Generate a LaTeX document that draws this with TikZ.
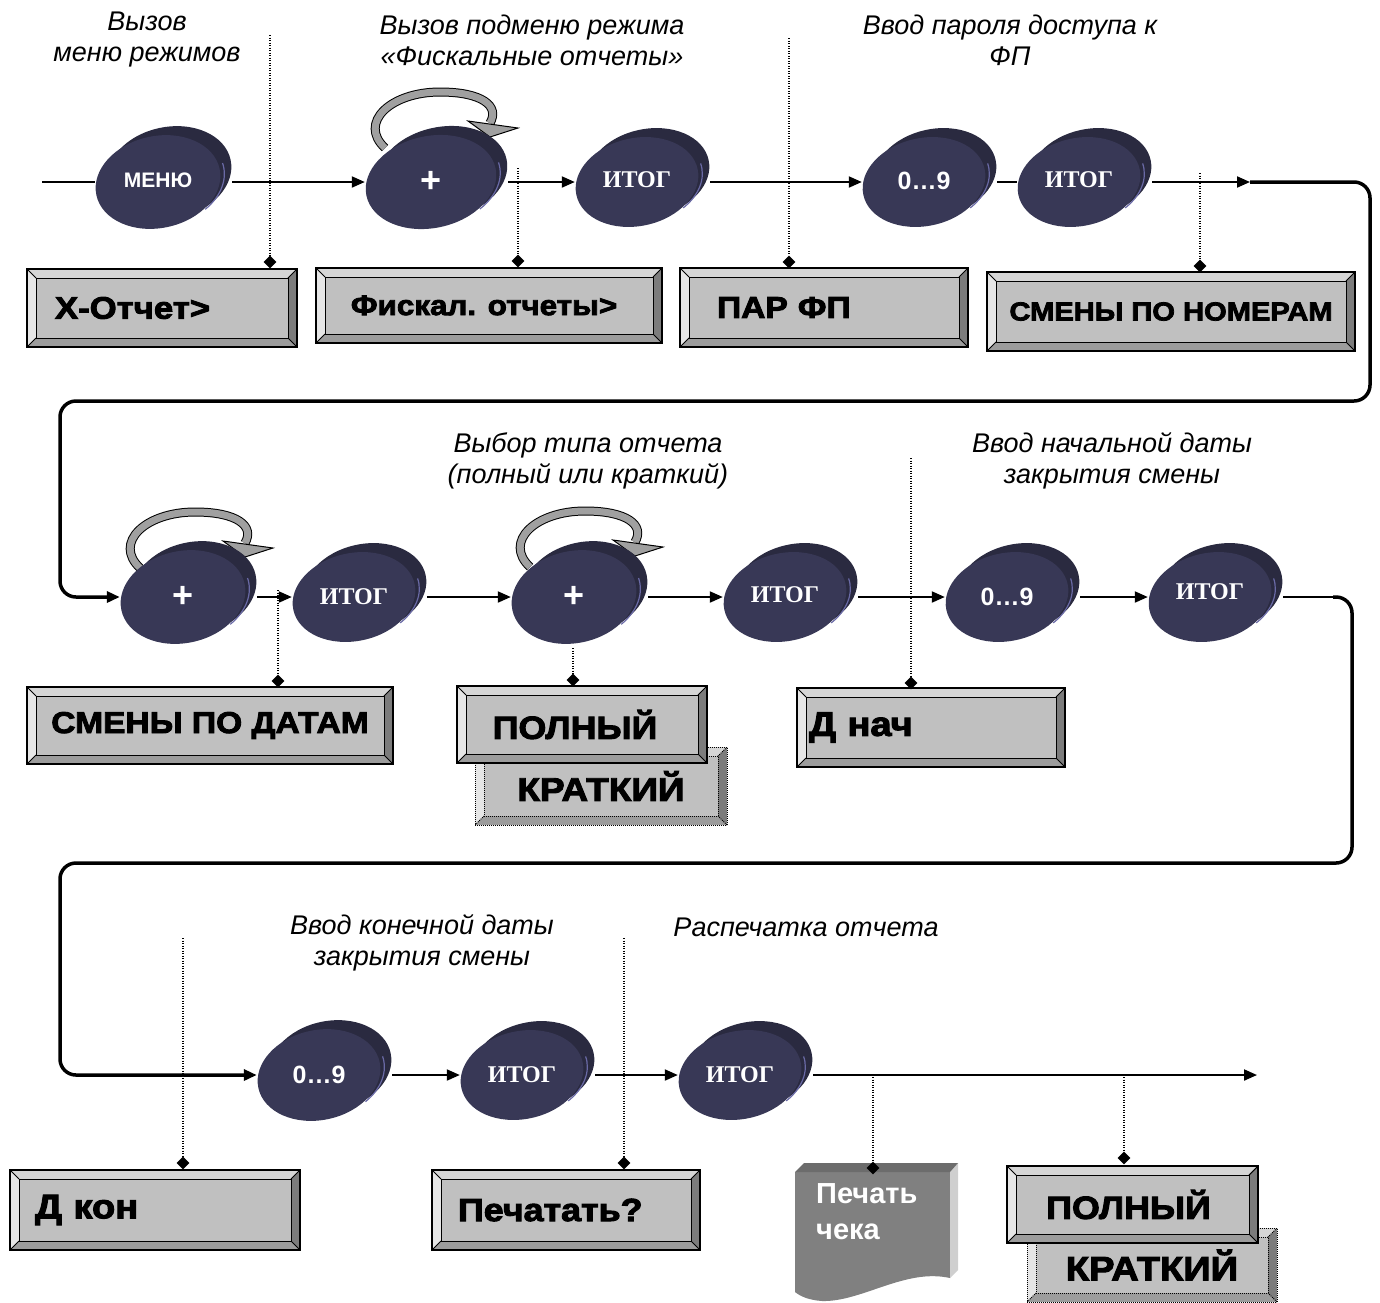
\documentclass[tikz,border=0pt]{standalone}
\usepackage{fontspec}
\setmainfont{Liberation Sans}
\newfontfamily\hv{Liberation Sans Bold}[FakeBold=3, FakeStretch=1.12]
\newfontfamily\tms{Liberation Serif}
\usetikzlibrary{arrows.meta,shapes.geometric,calc}
\definecolor{coinF}{HTML}{383856}
\definecolor{coinB}{HTML}{2A2A40}
\definecolor{coinH}{HTML}{6A6AA6}
\definecolor{boxG}{HTML}{C0C0C0}
\definecolor{bevT}{HTML}{D6D6D6}
\definecolor{bevL}{HTML}{E6E6E6}
\definecolor{bevB}{HTML}{9C9C9C}
\definecolor{bevR}{HTML}{7C7C7C}
\definecolor{docG}{HTML}{808080}
\definecolor{docS}{HTML}{CFCFCF}
\definecolor{docT}{HTML}{6C6C6C}
\definecolor{rotG}{HTML}{A0A0A0}
\def\ppb{path picture bounding box}
\newcommand\bevelpp[2]{%
 \fill[bevT] (\ppb.north west) -- (\ppb.north east) -- ([shift={(-#1,-#1)}]\ppb.north east) -- ([shift={(#1,-#1)}]\ppb.north west) -- cycle;
 \fill[bevL] (\ppb.north west) -- (\ppb.south west) -- ([shift={(#1,#1)}]\ppb.south west) -- ([shift={(#1,-#1)}]\ppb.north west) -- cycle;
 \fill[bevB] (\ppb.south west) -- (\ppb.south east) -- ([shift={(-#1,#1)}]\ppb.south east) -- ([shift={(#1,#1)}]\ppb.south west) -- cycle;
 \fill[bevR] (\ppb.north east) -- (\ppb.south east) -- ([shift={(-#1,#1)}]\ppb.south east) -- ([shift={(-#1,-#1)}]\ppb.north east) -- cycle;
 \draw[#2] ([shift={(#1,-#1)}]\ppb.north west) rectangle ([shift={(-#1,#1)}]\ppb.south east);
 \draw[#2] (\ppb.north west) -- ([shift={(#1,-#1)}]\ppb.north west);
 \draw[#2] (\ppb.north east) -- ([shift={(-#1,-#1)}]\ppb.north east);
 \draw[#2] (\ppb.south west) -- ([shift={(#1,#1)}]\ppb.south west);
 \draw[#2] (\ppb.south east) -- ([shift={(-#1,#1)}]\ppb.south east);
}
\newcommand\coin[6]{%
  \fill[coinB, rotate around={12:(#2+11,#3-9)}] (#2+11,#3-9) ellipse ({#4} and {#5});
  \draw[coinH, line width=1.2pt, rotate around={12:(#2+4,#3-2)}] (#2+4,#3-2) ++({#4*cos(-5)},{#5*sin(-5)}) arc[start angle=-5, end angle=55, x radius=#4, y radius=#5];
  \fill[coinF, rotate around={12:(#2,#3)}] (#2,#3) ellipse ({#4} and {#5});
  \node[coinlbl, minimum width=2*#4, minimum height=2*#5] (#1) at (#2,#3) {#6};
}
\newcommand\rotarrow[2]{%
  \draw[line width=1pt, draw=black, double=rotG, double distance=7pt]
    (#1-55,#2+20) .. controls (#1-82,#2-5) and (#1-50,#2-36) .. (#1,#2-36)
    .. controls (#1+42,#2-36) and (#1+60,#2-22) .. (#1+50,#2-5);
  \filldraw[fill=rotG, draw=black, line width=1pt] (#1+28,#2-7) -- (#1+78,#2) -- (#1+50,#2+9) -- cycle;
}
\newcommand\lblS[1]{\bfseries\fontsize{25}{25}\selectfont #1}
\newcommand\lblI[1]{\tms\bfseries\fontsize{24}{24}\selectfont ИТОГ}
\newcommand\lblP{\raisebox{-6pt}{\bfseries\fontsize{36}{36}\selectfont +}}
\begin{document}
\begin{tikzpicture}[x=1pt,y=-1pt,
  conn/.style={line width=2pt, -{Triangle[length=13pt,width=11pt]}},
  plain/.style={line width=2pt},
  bracket/.style={line width=3.5pt, rounded corners=16pt},
  dotl/.style={line width=1.2pt, dash pattern=on 1.2pt off 1.3pt},
  dia/.style={diamond, fill=black, inner sep=0pt, minimum width=13pt, minimum height=13pt},
  capt/.style={font=\fontsize{27}{31}\selectfont\itshape, align=center, inner sep=0pt},
  coinlbl/.style={ellipse, inner sep=0pt, text=white},
  bevel/.style={rectangle, draw=black, line width=1.3pt, fill=boxG, inner sep=0pt, text=black,
    path picture={\bevelpp{9pt}{black, line width=1pt}}},
  dbevel/.style={rectangle, draw=black, line width=1pt, dash pattern=on 1pt off 1pt, fill=boxG, inner sep=0pt, text=black,
    path picture={\bevelpp{9pt}{black, line width=0.9pt, dash pattern=on 1pt off 1pt}}},
  bt/.style={font=\hv\fontsize{#1}{#1}\selectfont}
]
\useasboundingbox (0,0) rectangle (1380,1302);

% rotation arrows
\rotarrow{440}{128}
\rotarrow{195}{548}
\rotarrow{585}{547}

% coins row 1
\coin{c1}{158}{182}{63}{46}{\raisebox{4pt}{\bfseries\fontsize{21}{21}\selectfont МЕНЮ}}
\coin{c2}{431}{182}{66}{46}{\lblP}
\coin{c3}{637}{182}{62}{44}{\raisebox{4pt}{\lblI{}}}
\coin{c4}{924}{182}{62}{44}{\raisebox{2pt}{\lblS{0…9}}}
\coin{c5}{1079}{182}{62}{44}{\raisebox{5pt}{\lblI{}}}
% coins row 2
\coin{c6}{183}{597}{63}{46}{\lblP}
\coin{c7}{354}{597}{62}{44}{\lblI{}}
\coin{c8}{574}{597}{63}{46}{\lblP}
\coin{c9}{785}{597}{62}{44}{\raisebox{5pt}{\lblI{}}}
\coin{c10}{1007}{597}{62}{44}{\lblS{0…9}}
\coin{c11}{1210}{597}{62}{44}{\raisebox{10pt}{\lblI{}}}
% coins row 3
\coin{c12}{319}{1075}{62}{45}{\lblS{0…9}}
\coin{c13}{522}{1075}{62}{44}{\lblI{}}
\coin{c14}{740}{1075}{62}{44}{\lblI{}}

% connectors row 1
\coordinate (s0) at (42,182);
\draw[plain] (s0) -- (c1.west);
\draw[conn] ([xshift=11pt]c1.east) -- (c2.west);
\draw[conn] ([xshift=11pt]c2.east) -- (c3.west);
\draw[conn] ([xshift=11pt]c3.east) -- (c4.west);
\draw[plain] ([xshift=11pt]c4.east) -- (c5.west);
\coordinate (a1) at (1250,182);
\draw[conn] ([xshift=11pt]c5.east) -- (a1);
\draw[bracket, -{Triangle[length=13pt,width=11pt]}] (a1) -- (1370,182) -- (1370,401) -- (60,401) -- (60,597) -- (c6.west);
% connectors row 2
\draw[conn] ([xshift=11pt]c6.east) -- (c7.west);
\draw[conn] ([xshift=11pt]c7.east) -- (c8.west);
\draw[conn] ([xshift=11pt]c8.east) -- (c9.west);
\draw[conn] ([xshift=11pt]c9.east) -- (c10.west);
\draw[conn] ([xshift=11pt]c10.east) -- (c11.west);
\coordinate (b1) at (1333,597);
\draw[plain] ([xshift=11pt]c11.east) -- (b1);
\draw[bracket, -{Triangle[length=13pt,width=11pt]}] (b1) -- (1352,597) -- (1352,863) -- (60,863) -- (60,1075) -- (c12.west);
% connectors row 3
\draw[conn] ([xshift=11pt]c12.east) -- (c13.west);
\draw[conn] ([xshift=11pt]c13.east) -- (c14.west);
\coordinate (e1) at (1257,1075);
\draw[conn] ([xshift=11pt]c14.east) -- (e1);

% boxes row 1
\node[bevel, bt=31, minimum width=270, minimum height=78, text width=214pt, align=left, inner xsep=28pt] (xr) at (162,308) {\raisebox{-3pt}{X-Отчет>}};
\node[bevel, bt=28, minimum width=346, minimum height=75] (fis) at (489,305.5) {\hspace*{-10pt}Фискал. отчеты>};
\node[bevel, bt=30, minimum width=288, minimum height=79, text width=214pt, align=left, inner xsep=37pt] (par) at (824,307.5) {\raisebox{-3pt}{ПАР ФП}};
\node[bevel, bt=26, minimum width=368, minimum height=79] (snom) at (1171,311.5) {СМЕНЫ ПО НОМЕРАМ};
% boxes row 2
\node[bevel, bt=30, minimum width=366, minimum height=77] (sdat) at (210,725.5) {СМЕНЫ ПО ДАТАМ};
\node[dbevel, bt=33, minimum width=252, minimum height=78] (kr1) at (601,786) {\raisebox{-2pt}{КРАТКИЙ}};
\node[bevel, bt=32, minimum width=250, minimum height=77] (pl1) at (582,724.5) {\hspace*{-14pt}ПОЛНЫЙ};
\node[bevel, bt=34, minimum width=268, minimum height=79, text width=244pt, align=left, inner xsep=12pt] (dn) at (931,727.5) {\raisebox{-4pt}{Д нач}};
% boxes row 3
\node[bevel, bt=34, minimum width=290, minimum height=80, text width=240pt, align=left, inner xsep=25pt] (dk) at (155,1210) {Д кон};
\node[bevel, bt=32, minimum width=268, minimum height=80, text width=216pt, align=left, inner xsep=26pt] (pch) at (566,1210) {Печатать?};
\node[dbevel, bt=34, minimum width=250, minimum height=74] (kr2) at (1152,1265) {\raisebox{-2pt}{КРАТКИЙ}};
\node[bevel, bt=32, minimum width=251, minimum height=77] (pl2) at (1132.5,1204.5) {\hspace*{-8pt}ПОЛНЫЙ};
% receipt document
\fill[docG] (795,1172) -- (950,1172) -- (950,1278) .. controls (905,1268) and (862,1302) .. (822,1301) .. controls (808,1300) and (800,1296) .. (795,1292) -- cycle;
\fill[docS] (950,1172) -- (958,1163) -- (958,1270) -- (950,1278) -- cycle;
\fill[docT] (795,1172) -- (804,1163) -- (958,1163) -- (950,1172) -- cycle;
\node[anchor=north west, inner sep=0pt, align=left, text=white, font=\bfseries\fontsize{29}{36}\selectfont] (chek) at (816,1183) {Печать\\чека};

% dotted leaders with diamonds
\coordinate (v1) at (270,35);   \node[dia] (d1) at (270,262) {};  \draw[dotl] (v1) -- (d1);
\coordinate (v2) at (518,168);  \node[dia] (d2) at (518,261) {};  \draw[dotl] (v2) -- (d2);
\coordinate (v3) at (789,38);   \node[dia] (d3) at (789,262) {};  \draw[dotl] (v3) -- (d3);
\coordinate (v4) at (1200,173); \node[dia] (d4) at (1200,266) {}; \draw[dotl] (v4) -- (d4);
\coordinate (v5) at (278,590);  \node[dia] (d5) at (278,681) {};  \draw[dotl] (v5) -- (d5);
\coordinate (v6) at (573,648);  \node[dia] (d6) at (573,680) {};  \draw[dotl] (v6) -- (d6);
\coordinate (v7) at (911,458);  \node[dia] (d7) at (911,683) {};  \draw[dotl] (v7) -- (d7);
\coordinate (v8) at (183,938);  \node[dia] (d8) at (183,1163) {}; \draw[dotl] (v8) -- (d8);
\coordinate (v9) at (624,938);  \node[dia] (d9) at (624,1163) {}; \draw[dotl] (v9) -- (d9);
\coordinate (v10) at (873,1077); \node[dia] (d10) at (873,1168) {}; \draw[dotl] (v10) -- (d10);
\coordinate (v11) at (1124,1077); \node[dia] (d11) at (1124,1158) {}; \draw[dotl] (v11) -- (d11);

% captions
\node[capt] (t1) at (147,40) {Вызов\\меню режимов};
\node[capt] (t2) at (532,40) {Вызов подменю режима\\«Фискальные отчеты»};
\node[capt] (t3) at (1010,40) {Ввод пароля доступа к\\ФП};
\node[capt] (t4) at (588,461) {Выбор типа отчета\\(полный или краткий)};
\node[capt] (t5) at (1112,461) {Ввод начальной даты\\закрытия смены};
\node[capt] (t6) at (422,943) {Ввод конечной даты\\закрытия смены};
\node[capt] (t7) at (806,927) {Распечатка отчета};
\end{tikzpicture}
\end{document}
